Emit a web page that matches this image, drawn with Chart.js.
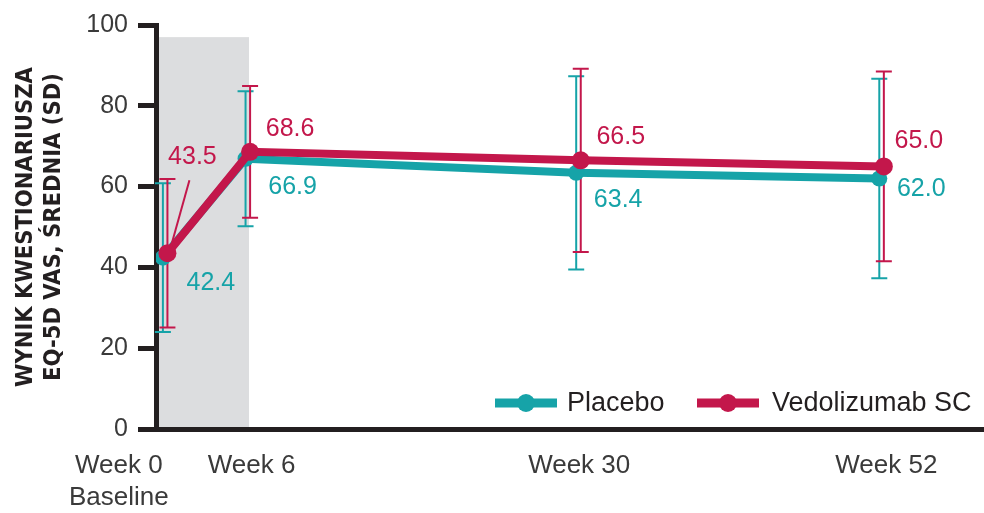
<!DOCTYPE html>
<html>
<head>
<meta charset="utf-8">
<script src="https://cdn.jsdelivr.net/npm/chart.js@4.4.1/dist/chart.umd.min.js"></script>
<style>
  html, body { margin: 0; padding: 0; background: #fff; }
  #wrap { width: 984px; height: 513px; }
</style>
</head>
<body>
<div id="wrap"><canvas id="chartEq5d" width="984" height="513"></canvas></div>
<script>
// EQ-5D VAS, mean (SD) by visit
const weeks = [0, 6, 30, 52]
const weekLabels = [['Week 0', 'Baseline'], ['Week 6'], ['Week 30'], ['Week 52']]
const yTicks = [0, 20, 40, 60, 80, 100]
const seriesNames = ['Placebo', 'Vedolizumab SC']
const placeboMean = [42.4, 66.9, 63.4, 62.0]
const placeboSd = [18.4, 16.7, 23.9, 24.7]
const vedoMean = [43.5, 68.6, 66.5, 65.0]
const vedoSd = [18.4, 16.3, 22.7, 23.5]

const TEAL = '#16A3A8'
const RED = '#C3174B'
const INK = '#231F20'
const FONT = "'Liberation Sans', Arial, sans-serif"

// small sideways shift so the two series don't sit on top of each other
const dodge = 0.33
// where each value label sits relative to its point (px)
const placeboLabelPos = [[48, 25], [47, 28], [42, 27], [42, 11]]
const vedoLabelPos = [[25, -96], [40, -23], [40, -23], [35, -25]]
// x label centre shift from the week position (px)
const weekLabelDx = [-44, 6, 3, 7]

const shadePlugin = {
  id: 'shade',
  beforeDraw(chart) {
    const { ctx, chartArea, scales } = chart
    const x1 = scales.x.getPixelForValue(6.25)
    const yTop = scales.y.getPixelForValue(97)
    ctx.save()
    ctx.fillStyle = '#DCDDDF'
    ctx.fillRect(chartArea.left, yTop, x1 - chartArea.left, chartArea.bottom - yTop)
    ctx.restore()
  }
}

const errorBars = {
  id: 'errorBars',
  beforeDatasetsDraw(chart) {
    const { ctx, scales } = chart
    const sds = [placeboSd, vedoSd]
    ctx.save()
    chart.data.datasets.forEach((ds, di) => {
      const meta = chart.getDatasetMeta(di)
      ctx.strokeStyle = ds.borderColor
      ctx.lineWidth = 2
      meta.data.forEach((pt, i) => {
        const m = ds.data[i].y
        const top = scales.y.getPixelForValue(m + sds[di][i])
        const bot = scales.y.getPixelForValue(m - sds[di][i])
        const x = pt.x
        ctx.beginPath()
        ctx.moveTo(x, top); ctx.lineTo(x, bot)
        ctx.moveTo(x - 8, top); ctx.lineTo(x + 8, top)
        ctx.moveTo(x - 8, bot); ctx.lineTo(x + 8, bot)
        ctx.stroke()
      })
    })
    ctx.restore()
  }
}

const valueLabels = {
  id: 'valueLabels',
  afterDatasetsDraw(chart) {
    const { ctx } = chart
    const pos = [placeboLabelPos, vedoLabelPos]
    ctx.save()
    ctx.font = '25px ' + FONT
    ctx.textAlign = 'center'
    ctx.textBaseline = 'middle'
    chart.data.datasets.forEach((ds, di) => {
      const meta = chart.getDatasetMeta(di)
      ctx.fillStyle = ds.borderColor
      meta.data.forEach((pt, i) => {
        const [dx, dy] = pos[di][i]
        ctx.fillText(ds.data[i].y.toFixed(1), pt.x + dx, pt.y + dy)
      })
    })
    // leader line for the baseline Vedolizumab label
    const p0 = chart.getDatasetMeta(1).data[0]
    ctx.strokeStyle = RED
    ctx.lineWidth = 2
    ctx.beginPath()
    ctx.moveTo(p0.x + 22, p0.y - 73)
    ctx.lineTo(p0.x + 3, p0.y - 5)
    ctx.stroke()
    ctx.restore()
  }
}

const weekAxisLabels = {
  id: 'weekAxisLabels',
  afterDraw(chart) {
    const { ctx, scales } = chart
    ctx.save()
    ctx.font = '26px ' + FONT
    ctx.fillStyle = '#3A3A3A'
    ctx.textAlign = 'center'
    ctx.textBaseline = 'alphabetic'
    weeks.forEach((w, i) => {
      const x = scales.x.getPixelForValue(w) + weekLabelDx[i]
      weekLabels[i].forEach((line, li) => {
        ctx.fillText(line, x, 473 + li * 32)
      })
    })
    ctx.restore()
  }
}

const lineLegend = {
  id: 'lineLegend',
  afterDraw(chart) {
    const { ctx } = chart
    const items = [{ x: 495, tx: 567 }, { x: 697, tx: 772 }]
    const y = 403
    ctx.save()
    ctx.font = '27px ' + FONT
    ctx.textBaseline = 'middle'
    chart.data.datasets.forEach((ds, di) => {
      const it = items[di]
      ctx.strokeStyle = ds.borderColor
      ctx.lineWidth = 9
      ctx.beginPath()
      ctx.moveTo(it.x, y); ctx.lineTo(it.x + 62, y)
      ctx.stroke()
      ctx.fillStyle = ds.borderColor
      ctx.beginPath()
      ctx.arc(it.x + 31, y, 9, 0, Math.PI * 2)
      ctx.fill()
      ctx.fillStyle = INK
      ctx.fillText(ds.label, it.tx, y + 1)
    })
    ctx.restore()
  }
}

const toPoints = (mean, shift) => weeks.map((w, i) => ({ x: w + shift, y: mean[i] }))

const graphic = document.getElementById('chartEq5d')
const eqChart = new Chart(graphic, {
  type: 'line',
  data: {
    datasets: [{
      label: seriesNames[0],
      data: toPoints(placeboMean, 0),
      borderColor: TEAL,
      backgroundColor: TEAL,
      borderWidth: 8,
      pointRadius: 8,
      pointBorderWidth: 0,
      pointBackgroundColor: TEAL,
      order: 2
    }, {
      label: seriesNames[1],
      data: toPoints(vedoMean, dodge),
      borderColor: RED,
      backgroundColor: RED,
      borderWidth: 8,
      pointRadius: 9,
      pointBorderWidth: 0,
      pointBackgroundColor: RED,
      order: 1
    }]
  },
  options: {
    responsive: false,
    animation: false,
    devicePixelRatio: 1,
    layout: { autoPadding: false, padding: { top: 20, right: 0, left: 0, bottom: 0 } },
    plugins: {
      legend: { display: false },
      tooltip: { enabled: false }
    },
    scales: {
      x: {
        type: 'linear',
        min: -0.5,
        max: 59.6,
        ticks: { display: false },
        grid: { display: false },
        border: { display: true, color: INK, width: 5 },
        afterFit(scale) { scale.height = 84 }
      },
      y: {
        min: 0,
        max: 100,
        afterBuildTicks(scale) { scale.ticks = yTicks.map(v => ({ value: v })) },
        ticks: {
          color: '#3A3A3A',
          padding: 10,
          font: { family: FONT, size: 25 }
        },
        grid: {
          drawOnChartArea: false,
          drawTicks: true,
          tickLength: 18,
          tickWidth: 5,
          tickColor: INK
        },
        border: { display: true, color: INK, width: 5 },
        title: {
          display: true,
          text: ['WYNIK KWESTIONARIUSZA', 'EQ-5D VAS, ŚREDNIA (SD)'],
          color: INK,
          padding: { top: 12, bottom: 0 },
          font: { family: "'Liberation Sans Narrow', 'DejaVu Sans Condensed', sans-serif", size: 23.5, weight: 'bold', lineHeight: '28px' }
        },
        afterFit(scale) { scale.width = 156 }
      }
    }
  },
  plugins: [shadePlugin, errorBars, valueLabels, weekAxisLabels, lineLegend]
})
</script>
</body>
</html>
